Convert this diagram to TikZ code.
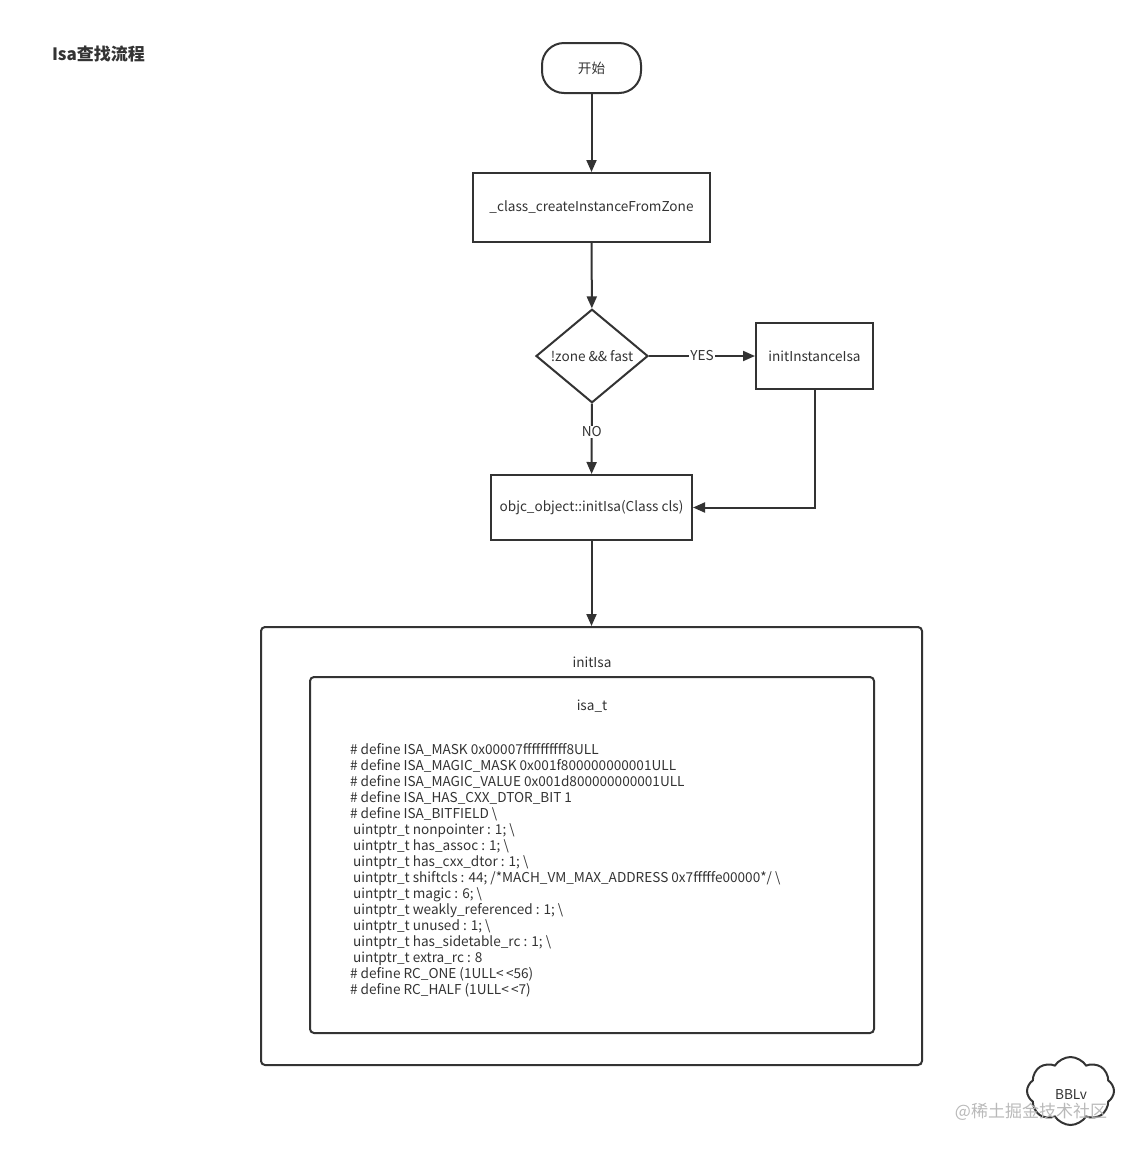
\documentclass[tikz,border=0pt]{standalone}
\usepackage{fontspec}
\setmainfont{Noto Sans CJK SC}
\usetikzlibrary{shapes.geometric,shapes.misc,shapes.symbols,arrows.meta}
\definecolor{ink}{HTML}{333333}
\begin{document}
\begin{tikzpicture}[x=1pt,y=-1pt,line width=2pt,draw=ink,
    every node/.style={font=\fontsize{13.6}{16}\selectfont,text=ink,inner sep=0pt},
    proc/.style={draw,rectangle},
    flow/.style={-{Triangle[length=12pt,width=10pt]}},
    tag/.style={fill=white,inner sep=1pt}]
    \useasboundingbox (0,0) rectangle (1141,1152);
    \node [anchor=west,font=\fontsize{17}{20}\selectfont\bfseries] (title) at (51,54) {Isa查找流程};

    \node [draw,rectangle,rounded corners=22pt,minimum width=99pt,minimum height=50pt] (Start) at (591.5,68) {开始};
    \node [proc,minimum width=237pt,minimum height=69pt] (Create) at (591.5,207.5) {\_class\_createInstanceFromZone};
    \node [draw,diamond,minimum width=112pt,minimum height=84pt] (Check) at (592,356) {!zone \&\& fast};
    \node [proc,minimum width=117pt,minimum height=66pt] (InitInstance) at (814.5,356) {initInstanceIsa};
    \node [proc,minimum width=201pt,minimum height=65pt] (InitIsa) at (591.5,507.5) {objc\_object::initIsa(Class cls)};
    \node [draw,rectangle,rounded corners=4pt,minimum width=661pt,minimum height=438pt] (Outer) at (591.5,846) {};
    \node (OuterLabel) at (592,662) {initIsa};
    \node [draw,rectangle,rounded corners=4pt,minimum width=564pt,minimum height=356pt] (Inner) at (592,855) {};
    \node (InnerLabel) at (592,706) {isa\_t};

    % bitfield definition
    \foreach \codeline [count=\k from 0] in {
        {\# define ISA\_MASK 0x00007ffffffffff8ULL},
        {\# define ISA\_MAGIC\_MASK 0x001f800000000001ULL},
        {\# define ISA\_MAGIC\_VALUE 0x001d800000000001ULL},
        {\# define ISA\_HAS\_CXX\_DTOR\_BIT 1},
        {\# define ISA\_BITFIELD \textbackslash},
        {\ uintptr\_t nonpointer : 1; \textbackslash},
        {\ uintptr\_t has\_assoc : 1; \textbackslash},
        {\ uintptr\_t has\_cxx\_dtor : 1; \textbackslash},
        {\ uintptr\_t shiftcls : 44; /*MACH\_VM\_MAX\_ADDRESS 0x7fffffe00000*/ \textbackslash},
        {\ uintptr\_t magic : 6; \textbackslash},
        {\ uintptr\_t weakly\_referenced : 1; \textbackslash},
        {\ uintptr\_t unused : 1; \textbackslash},
        {\ uintptr\_t has\_sidetable\_rc : 1; \textbackslash},
        {\ uintptr\_t extra\_rc : 8},
        {\# define RC\_ONE (1ULL<\,<56)},
        {\# define RC\_HALF (1ULL<\,<7)}}
        \node [anchor=base west] (code\k) at (349,754+16*\k) {\codeline};

    \node [draw,cloud,cloud puffs=8,cloud puff arc=115,minimum width=87pt,minimum height=68pt] (Cloud) at (1070.5,1091) {};
    \node (CloudLabel) at (1071,1095) {BBLv};
    \node [text=gray!55,font=\fontsize{17}{20}\selectfont] (mark) at (1031,1112) {@稀土掘金技术社区};

    \path [flow] (Start) edge (Create);
    \path [flow] (Create) edge (Check);
    \path [flow] (Check) edge node [tag,pos=0.5] {YES} (InitInstance);
    \path [flow] (Check) edge node [tag,pos=0.4] {NO} (InitIsa);
    \draw [flow] (InitInstance) |- (InitIsa);
    \path [flow] (InitIsa) edge (Outer);
\end{tikzpicture}
\end{document}
